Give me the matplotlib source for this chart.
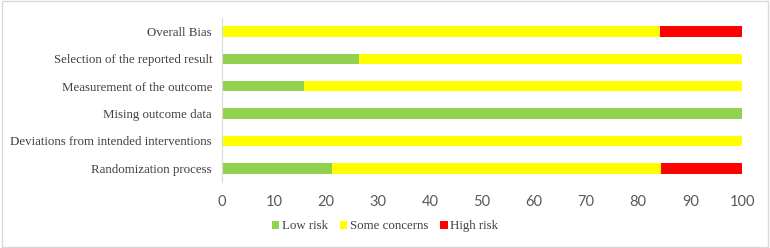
import matplotlib.pyplot as plt
import numpy as np
from matplotlib.patches import Rectangle

plt.rcParams['font.family'] = ['Liberation Serif', 'DejaVu Serif']

# domains, bottom to top
domains = ['Randomization process', 'Deviations from intended interventions',
           'Mising outcome data', 'Measurement of the outcome',
           'Selection of the reported result', 'Overall Bias']
low_risk = [21.1, 0, 100, 15.8, 26.3, 0]
some_concerns = [63.2, 100, 0, 84.2, 73.7, 84.2]
high_risk = [15.8, 0, 0, 0, 0, 15.8]
x_ticks = [0, 10, 20, 30, 40, 50, 60, 70, 80, 90, 100]

colors = {'Low risk': '#92D050', 'Some concerns': '#FFFF00', 'High risk': '#FF0000'}

fig = plt.figure(figsize=(7.7, 2.48), dpi=100)
ax = fig.add_axes([0.288, 0.266, 0.676, 0.663])

y = np.arange(len(domains))
h = 0.38
low = np.array(low_risk)
some = np.array(some_concerns)
high = np.array(high_risk)
ax.barh(y, low, height=h, color=colors['Low risk'], label='Low risk')
ax.barh(y, some, left=low, height=h, color=colors['Some concerns'], label='Some concerns')
ax.barh(y, high, left=low + some, height=h, color=colors['High risk'], label='High risk')

ax.set_xlim(0, 100)
ax.set_ylim(-0.5, len(domains) - 0.5)
ax.set_xticks(x_ticks)
ax.set_xticklabels([str(t) for t in x_ticks])
for lbl in ax.get_xticklabels():
    lbl.set_fontfamily('Lato')
    lbl.set_fontsize(10.5)
    lbl.set_color('#595959')
ax.set_yticks(y)
ax.set_yticklabels(domains)
for lbl in ax.get_yticklabels():
    lbl.set_fontsize(9.3)
    lbl.set_color('#404040')
ax.tick_params(length=0, pad=7)
ax.tick_params(axis='x', pad=9)
for s in ['top', 'right', 'bottom']:
    ax.spines[s].set_visible(False)
ax.spines['left'].set_color('#D9D9D9')

leg = fig.legend(loc='center', bbox_to_anchor=(0.5, 0.088), ncol=3, frameon=False,
                 prop={'size': 9.3},
                 handlelength=0.6, handleheight=0.6, handletextpad=0.2, columnspacing=0.9)
for t in leg.get_texts():
    t.set_color('#404040')

# outer border
fig.patches.append(Rectangle((0.002, 0.004), 0.995, 0.99, transform=fig.transFigure,
                             fill=False, edgecolor='#D9D9D9', linewidth=1))

fig.savefig('out.png', dpi=100)
